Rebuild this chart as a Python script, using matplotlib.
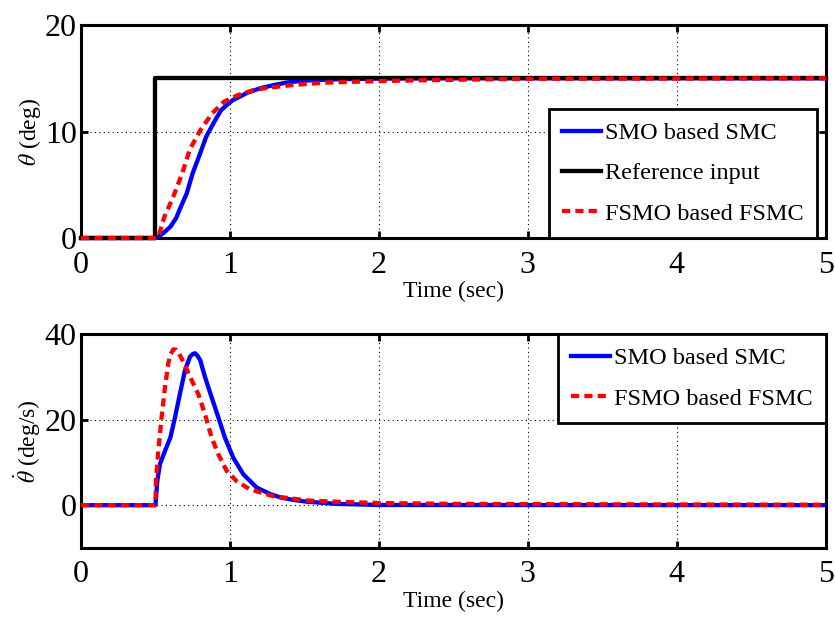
import numpy as np
import matplotlib
matplotlib.use('Agg')
import matplotlib.pyplot as plt

plt.rcParams['font.family'] = ['Liberation Serif', 'DejaVu Serif']
plt.rcParams['mathtext.fontset'] = 'stix'

# angle response (deg)
t_ref = [0, 0.5, 0.5, 5]
th_ref = [0, 0, 15, 15]

t_smo = [0, 0.5, 0.52, 0.56, 0.6, 0.64, 0.66, 0.71, 0.75, 0.8, 0.84, 0.89, 0.94,
         0.98, 1.02, 1.07, 1.11, 1.2, 1.29, 1.38, 1.5, 1.7, 2.0, 2.5, 5]
th_smo = [0, 0, 0.12, 0.55, 1.06, 1.9, 2.6, 4.2, 6.1, 7.95, 9.5, 10.8, 12.0,
          12.5, 12.96, 13.3, 13.6, 14.05, 14.35, 14.6, 14.78, 14.9, 14.97, 15, 15]

t_fsmo = [0, 0.5, 0.52, 0.56, 0.62, 0.68, 0.73, 0.8, 0.88, 0.96, 1.05, 1.16,
          1.25, 1.42, 1.65, 1.9, 2.14, 2.6, 3.0, 5]
th_fsmo = [0, 0, 0.12, 2.0, 3.9, 6.1, 8.3, 10.1, 11.7, 12.8, 13.4, 13.9,
           14.1, 14.37, 14.6, 14.7, 14.78, 14.88, 14.95, 15]

# angular rate (deg/s)
tv_smo = [0, 0.5, 0.512, 0.53, 0.564, 0.6, 0.631, 0.664, 0.698, 0.732, 0.75,
          0.765, 0.78, 0.8, 0.832, 0.877, 0.922, 0.966, 1.022, 1.09, 1.18,
          1.27, 1.34, 1.43, 1.52, 1.72, 2.0, 5]
v_smo = [0, 0, 5.6, 9.6, 12.7, 15.8, 20.5, 26, 31.5, 34.7, 35.3,
         35.5, 35.0, 33.9, 30, 25.2, 20.5, 15.8, 11.1, 7.2, 4.1,
         2.6, 1.8, 1.2, 0.8, 0.3, 0.05, 0]

tv_fsmo = [0, 0.5, 0.503, 0.519, 0.541, 0.564, 0.586, 0.6, 0.62, 0.64, 0.653,
           0.687, 0.732, 0.787, 0.832, 0.877, 0.922, 0.978, 1.045, 1.134,
           1.29, 1.52, 1.72, 2.0, 2.5, 3, 4, 5]
v_fsmo = [0, 0, 5.6, 12.7, 20.5, 27.6, 33.1, 35.2, 36.4, 36.3, 35.8,
          33.5, 30, 26, 21.3, 15.8, 11.9, 8.0, 5.6, 3.7,
          2.1, 1.1, 0.8, 0.5, 0.3, 0.25, 0.15, 0.1]

lw = 3.1
red_dash = (1.9, 1.2)

fig = plt.figure(figsize=(8.35, 6.21), dpi=100)
ax1 = fig.add_axes([0.097, 0.6167, 0.892, 0.343])
ax2 = fig.add_axes([0.097, 0.1176, 0.892, 0.3446])


def style(ax, yt):
    ax.set_xlim(0, 5)
    ax.set_xticks([0, 1, 2, 3, 4, 5])
    ax.set_yticks(yt)
    ax.grid(True, color='k', linestyle=(0, (1, 3)), linewidth=0.8)
    ax.tick_params(direction='in', length=5, width=2, top=True, right=True,
                   labelsize=23, pad=3)
    ax.tick_params(axis='x', pad=9)
    for s in ax.spines.values():
        s.set_linewidth(2.2)
    ax.set_xlabel('Time (sec)', fontsize=17, labelpad=1)


leg_kw = dict(fontsize=17.5, fancybox=False, framealpha=1, edgecolor='k',
              borderaxespad=0, handlelength=1.6, handletextpad=0.15,
              labelspacing=0.75, borderpad=0.55)

ax1.plot(t_smo, th_smo, color='b', lw=lw, label='SMO based SMC', clip_on=False, zorder=3)
ax1.plot(t_ref, th_ref, color='k', lw=lw, label='Reference input', clip_on=False, zorder=3)
ax1.plot(t_fsmo, th_fsmo, color='r', lw=lw, dashes=red_dash, label='FSMO based FSMC',
         clip_on=False, zorder=3)
ax1.set_ylim(0, 20)
style(ax1, [0, 10, 20])
ax1.set_ylabel(r'$\theta$ (deg)', fontsize=17, labelpad=1)
leg1 = ax1.legend(loc='lower right', bbox_to_anchor=(0.988, 0.0), **leg_kw)
leg1.get_frame().set_linewidth(2)

ax2.plot(tv_smo, v_smo, color='b', lw=lw, label='SMO based SMC', zorder=3)
ax2.plot(tv_fsmo, v_fsmo, color='r', lw=lw, dashes=red_dash, label='FSMO based FSMC', zorder=3)
ax2.set_ylim(-10, 40)
style(ax2, [0, 20, 40])
ax2.set_ylabel(r'$\dot{\theta}$ (deg/s)', fontsize=17, labelpad=1)
leg2 = ax2.legend(loc='upper right', bbox_to_anchor=(1.0, 1.0), **leg_kw)
leg2.get_frame().set_linewidth(2)

fig.savefig('out.png', dpi=100)
